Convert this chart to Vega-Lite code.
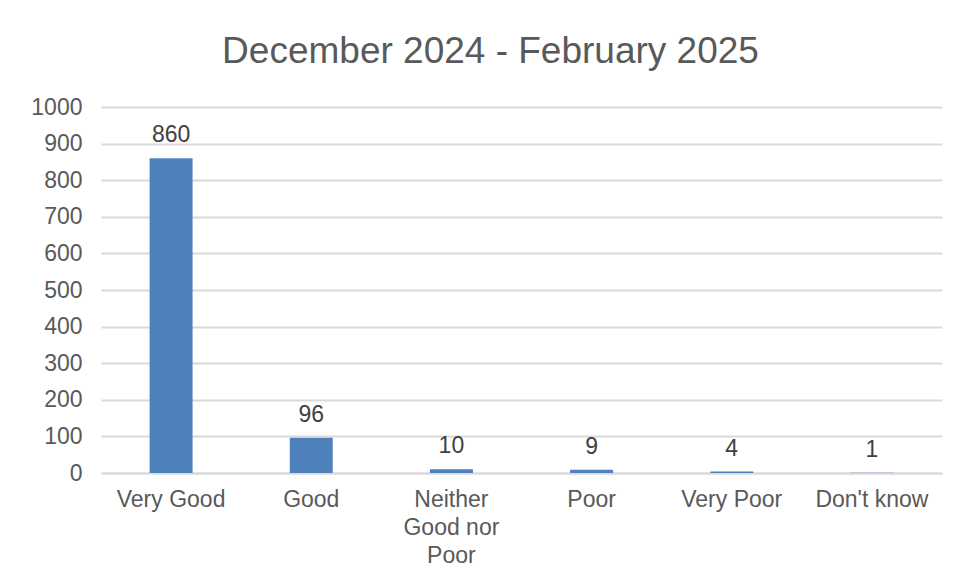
{
  "$schema": "https://vega.github.io/schema/vega-lite/v6.json",
  "autosize": "none",
  "width": 841,
  "height": 366,
  "padding": {"left": 101, "top": 107, "right": 16, "bottom": 109},
  "background": "white",
  "title": {
    "text": "December 2024 - February 2025",
    "fontSize": 37,
    "font": "Liberation Sans",
    "fontWeight": "normal",
    "color": "#595959",
    "anchor": "middle",
    "dx": -31,
    "offset": 25
  },
  "config": {
    "view": {"stroke": null},
    "font": "Liberation Sans"
  },
  "data": {
    "values": [
      {"category": "Very Good", "count": 860},
      {"category": "Good", "count": 96},
      {"category": "Neither Good nor Poor", "count": 10},
      {"category": "Poor", "count": 9},
      {"category": "Very Poor", "count": 4},
      {"category": "Don't know", "count": 1}
    ]
  },
  "encoding": {
    "x": {
      "field": "category",
      "type": "nominal",
      "sort": null,
      "scale": {"paddingInner": 0, "paddingOuter": 0},
      "axis": {
        "title": null,
        "labelAngle": 0,
        "labelFontSize": 23,
        "labelColor": "#595959",
        "labelFont": "Liberation Sans",
        "labelPadding": 15,
        "labelLineHeight": 28,
        "labelLimit": 200,
        "ticks": false,
        "domainColor": "#d9d9d9",
        "domainWidth": 2,
        "labelExpr": "datum.label == 'Neither Good nor Poor' ? ['Neither', 'Good nor', 'Poor'] : datum.label"
      }
    },
    "y": {
      "field": "count",
      "type": "quantitative",
      "scale": {"domain": [0, 1000], "nice": false},
      "axis": {
        "title": null,
        "format": "d",
        "values": [0, 100, 200, 300, 400, 500, 600, 700, 800, 900, 1000],
        "labelFontSize": 23,
        "labelColor": "#595959",
        "labelFont": "Liberation Sans",
        "labelPadding": 19,
        "ticks": false,
        "domain": false,
        "gridColor": "#d9d9d9",
        "gridWidth": 2
      }
    }
  },
  "layer": [
    {
      "mark": {"type": "bar", "size": 43, "color": "#4f81bd"}
    },
    {
      "mark": {
        "type": "text",
        "baseline": "alphabetic",
        "dy": -16,
        "fontSize": 23,
        "color": "#404040",
        "font": "Liberation Sans"
      },
      "encoding": {"text": {"field": "count", "type": "quantitative"}}
    }
  ]
}
